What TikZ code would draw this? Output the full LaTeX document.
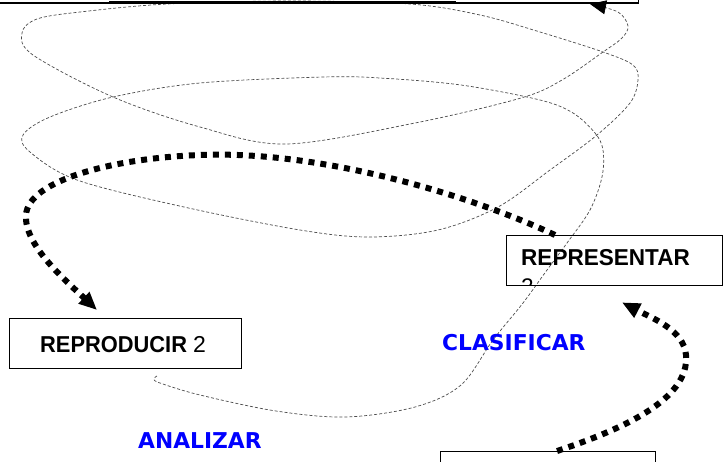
\documentclass[tikz,border=0pt]{standalone}
\usepackage{fontspec}
\setmainfont{Liberation Sans}
\newfontfamily\comicf{DejaVu Sans}
\usetikzlibrary{arrows.meta}
\begin{document}
\begin{tikzpicture}[x=1pt,y=-1pt,
  boxst/.style={draw=black, line width=1.4pt, rectangle, inner sep=0pt},
  dotarrow/.style={line width=6pt, dash pattern=on 6pt off 6pt, -{Triangle[length=18pt,width=15pt]}},
  spiral/.style={draw=black!70, line width=0.7pt, dash pattern=on 3pt off 2pt, -{Triangle[length=16pt,width=14pt,black]}},
  boxtext/.style={inner sep=0pt, font=\fontsize{23}{27}\selectfont},
  bluelabel/.style={text=blue, inner sep=0pt, font=\comicf\bfseries\fontsize{21.8}{24}\selectfont}
]
\useasboundingbox (0,0) rectangle (723,461);

% dashed spiral
\draw[spiral] plot[smooth, tension=0.55] coordinates {
 (157,376) (154,379) (160,383) (200,395) (276,411) (346,417) (415,407) (461,385)
 (493,340) (523,303) (547,270) (567,243) (590,210) (602,177) (603,150)
 (595,133) (573,113) (540,100) (461,85) (380,78) (323,77) (200,83) (113,97)
 (50,117) (23,135) (30,152) (77,180) (184,207) (300,230) (369,237) (438,230)
 (498,207) (550,170) (597,135) (630,103) (638,80) (633,65) (603,52) (540,32)
 (480,15) (410,4) (290,1) (167,4) (80,12) (37,19) (22,33) (33,55) (113,97)
 (200,127) (286,144) (415,123) (521,98) (562,80) (603,52) (622,38) (628,26)
 (618,12) (590,4)};

% top box (mostly outside the page)
\node[boxst, minimum width=720pt, minimum height=60pt, anchor=south east] (topbox) at (639,3.5) {};
\draw[line width=2.2pt] (109,1.6) -- (456,1.6);

% REPRODUCIR box
\node[boxst, minimum width=232.5pt, minimum height=50pt, anchor=north west] (repro) at (8.5,318) {};
\node[boxtext, anchor=base west] (reprotxt) at (40,352.5) {\scalebox{0.95}[1]{\bfseries REPRODUCIR}\hspace{6pt}2};

% REPRESENTAR box with clipped second line
\begin{scope}
  \clip (506,235) rectangle (722,284.3);
  \node[inner sep=0pt, anchor=base west, font=\fontsize{22.6}{26}\selectfont] (repretwo) at (521,294) {2};
\end{scope}
\node[boxst, minimum width=216pt, minimum height=50pt, anchor=north west] (repre) at (506,235) {};
\node[inner sep=0pt, anchor=base west, font=\fontsize{23}{26}\selectfont\bfseries] (repretxt) at (521,265) {\scalebox{0.98}[1]{REPRESENTAR}};

% bottom box
\node[boxst, minimum width=215pt, minimum height=40pt, anchor=north west] (bottombox) at (440,451) {};

% blue labels
\node[bluelabel, anchor=base west] (clasif) at (442,350) {CLASIFICAR};
\node[bluelabel, anchor=base west] (analiz) at (138,448) {ANALIZAR};

% thick dotted arrows
\coordinate (a1s) at ([xshift=49pt]repre.north west);
\coordinate (a1e) at ([xshift=88.5pt,yshift=8pt]repro.north west);
\draw[dotarrow] (a1s) .. controls (470,195) and (320,150) .. (200,155)
  .. controls (115,158) and (28,180) .. (26,215)
  .. controls (24,245) and (65,280) .. (a1e);

\coordinate (a2s) at ([xshift=117pt]bottombox.north west);
\coordinate (a2e) at ([xshift=116pt,yshift=-16pt]repre.south west);
\draw[dotarrow] (a2s) .. controls (620,430) and (690,400) .. (686,355)
  .. controls (684,330) and (652,318) .. (a2e);
\end{tikzpicture}
\end{document}
